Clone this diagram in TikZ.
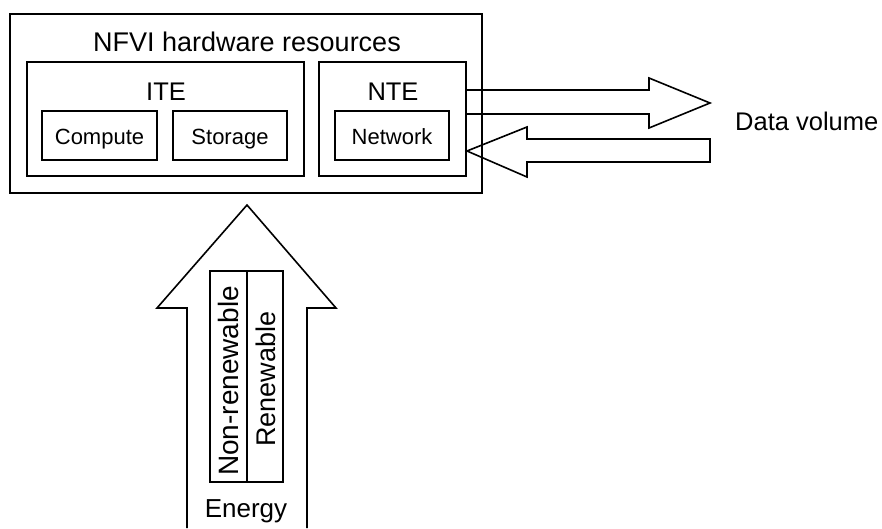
\documentclass[tikz,border=0pt]{standalone}
\usepackage{fontspec}
\setmainfont{Liberation Sans}
\begin{document}
\begin{tikzpicture}[x=1pt,y=-1pt,line join=miter,
  box/.style={draw,line width=1.6pt,inner sep=0pt,rectangle},
  blockarrow/.style={draw,line width=1.6pt},
  big/.style={inner sep=0pt,font=\fontsize{25.5}{30}\selectfont},
  small/.style={inner sep=0pt,font=\fontsize{22}{26}\selectfont}]
\useasboundingbox (0,0) rectangle (882,528);

% hardware resource boxes
\node[box,minimum width=472pt,minimum height=179pt] (nfvi) at (246,103.5) {};
\node[box,minimum width=277pt,minimum height=114pt] (ite) at (165.5,119) {};
\node[box,minimum width=147pt,minimum height=114pt] (nte) at (392.5,119) {};
\node[box,minimum width=115pt,minimum height=49pt] (compute) at (99.5,135.5) {};
\node[box,minimum width=114pt,minimum height=49pt] (storage) at (230,135.5) {};
\node[box,minimum width=114pt,minimum height=49pt] (network) at (392,135.5) {};

\node[big,font=\fontsize{27}{32}\selectfont,anchor=base] (t-nfvi) at (247,51) {NFVI hardware resources};
\node[big,anchor=base] (t-ite) at (166,100) {ITE};
\node[big,anchor=base] (t-nte) at (393,100) {NTE};
\node[small,anchor=base] (t-compute) at (99.5,144) {Compute};
\node[small,anchor=base] (t-storage) at (230,144) {Storage};
\node[small,anchor=base] (t-network) at (392,144) {Network};

% data volume arrows
\coordinate (outtail) at (nte.east |- 0,90);
\draw[blockarrow] (outtail) -- (649,90) -- (649,78) -- (710,103) -- (649,128)
  -- (649,114) -- (nte.east |- 0,114);
\coordinate (intip) at (467,151);
\draw[blockarrow] (intip) -- (527,127) -- (527,139) -- (710,139) -- (710,162)
  -- (527,162) -- (527,177) -- cycle;
\node[big,anchor=base west] (t-data) at (735,130) {Data volume};

% energy arrow
\coordinate (etip) at (247,205);
\draw[blockarrow] (187,528) -- (187,308) -- (157,308) -- (etip) -- (336,308)
  -- (307,308) -- (307,528);
\node[box,minimum width=37pt,minimum height=211pt] (nonren) at (228.5,376.5) {};
\node[box,minimum width=36pt,minimum height=211pt] (ren) at (265,376.5) {};
\node[big,font=\fontsize{28}{32}\selectfont,rotate=90] (t-nonren) at (228.5,381) {Non-renewable};
\node[big,font=\fontsize{27}{32}\selectfont,rotate=90] (t-ren) at (266,379) {Renewable};
\node[big,font=\fontsize{26}{30}\selectfont,anchor=base] (t-energy) at (246,517) {Energy};
\end{tikzpicture}
\end{document}
